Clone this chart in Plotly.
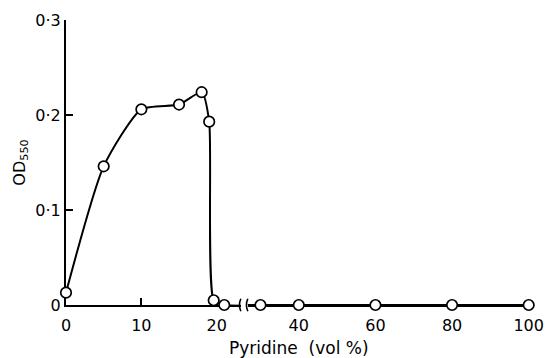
import plotly.graph_objects as go

# Data
pyridine = [0, 5, 10, 15, 18, 19, 19.6, 21, 30, 40, 60, 80, 100]
od550 = [0.013, 0.146, 0.206, 0.211, 0.224, 0.193, 0.005, 0.0, 0.0, 0.0, 0.0, 0.0, 0.0]

y_ticks = [0, 0.1, 0.2, 0.3]
y_ticktext = ["0", "0·1", "0·2", "0·3"]
x1_ticks = [0, 10, 20]
x2_ticks = [40, 60, 80, 100]

BREAK = 25  # axis break between segments

FONT = dict(family="DejaVu Sans", size=16, color="black")

seg1 = [(x, y) for x, y in zip(pyridine, od550) if x <= BREAK]
seg2 = [(x, y) for x, y in zip(pyridine, od550) if x >= BREAK]
first_after = [(x, y) for x, y in zip(pyridine, od550) if x < BREAK][-1]

fig = go.Figure()
fig.add_trace(go.Scatter(
    x=pyridine, y=od550, xaxis="x", yaxis="y", mode="lines",
    line=dict(color="black", width=2, shape="spline", smoothing=0.6),
    hoverinfo="skip", showlegend=False))
fig.add_trace(go.Scatter(
    x=[first_after[0]] + [p[0] for p in seg2], y=[first_after[1]] + [p[1] for p in seg2],
    xaxis="x2", yaxis="y", mode="lines",
    line=dict(color="black", width=2),
    hoverinfo="skip", showlegend=False))
mk = dict(symbol="circle", size=10.5, color="white", line=dict(color="black", width=1.7))
fig.add_trace(go.Scatter(
    x=[p[0] for p in seg1], y=[p[1] for p in seg1], xaxis="x", yaxis="y",
    mode="markers", marker=mk, cliponaxis=False, showlegend=False))
fig.add_trace(go.Scatter(
    x=[p[0] for p in seg2], y=[p[1] for p in seg2], xaxis="x2", yaxis="y",
    mode="markers", marker=mk, cliponaxis=False, showlegend=False))

D1_END = 0.376
D2_START = 0.391

axis_common = dict(showgrid=False, zeroline=False, showline=True, linecolor="black",
                   linewidth=2, tickfont=FONT, layer="below traces", automargin=False,
                   ticks="inside", tickcolor="black", tickwidth=1.5, ticklen=7)

fig.update_layout(
    width=546, height=358,
    margin=dict(l=66, r=15, t=20, b=53, autoexpand=False),
    paper_bgcolor="white", plot_bgcolor="white",
    font=FONT,
    xaxis=dict(domain=[0, D1_END], range=[0, 23.2], tickvals=x1_ticks,
               ticklabelstandoff=5, anchor="y", **axis_common),
    xaxis2=dict(domain=[D2_START, 1], range=[26.7, 100.6], tickvals=x2_ticks,
                ticklabelstandoff=5, anchor="y",
                **{**axis_common, "ticks": ""}),
    yaxis=dict(range=[0, 0.3], tickvals=y_ticks, ticktext=y_ticktext,
               ticklabelstandoff=0, anchor="x",
               title=dict(text="OD<sub>550</sub>", font=FONT, standoff=6),
               **axis_common),
    annotations=[dict(text="Pyridine  (vol %)", xref="paper", yref="paper",
                      x=0.5, y=-0.152, showarrow=False,
                      font=dict(family="DejaVu Sans", size=17, color="black"),
                      xanchor="center", yanchor="middle")],
)

def arc(xc):
    h = 0.022
    w = 0.004
    return f"M {xc + w/2},{h} Q {xc - w},0 {xc + w/2},{-h}"

for xc in (D1_END - 0.002, D2_START - 0.002):
    fig.add_shape(type="path", path=arc(xc), xref="paper", yref="paper",
                  line=dict(color="black", width=1.6))

fig.write_html("out.html")
